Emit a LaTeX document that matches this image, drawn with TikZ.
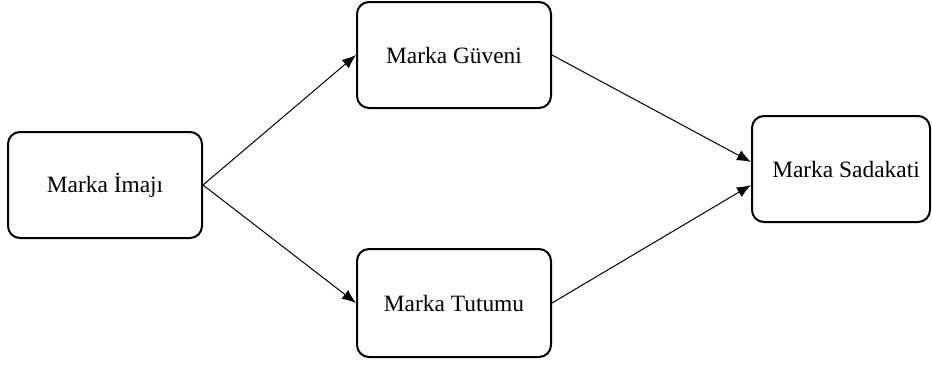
\documentclass[tikz,border=0pt]{standalone}
\usepackage{fontspec}
\setmainfont{Liberation Serif}
\usetikzlibrary{arrows.meta,positioning}
\tikzset{
  kutu/.style={draw, line width=1pt, rounded corners=6pt, minimum width=97pt,
    minimum height=53pt, align=center, font=\fontsize{11.7}{14}\selectfont},
  ok/.style={-{Latex[length=7pt,width=5.5pt]}, line width=0.5pt}
}

\begin{document}
\begin{tikzpicture}[x=0.5pt,y=-0.5pt]
      \useasboundingbox (0,0) rectangle (932,365);
      \node[kutu] (imaj) at (105,185) {Marka İmajı};
      \node[kutu] (guven) at (454,55) {Marka Güveni};
      \node[kutu, minimum height=54pt] (tutum) at (454,303) {Marka Tutumu};
      \node[kutu, minimum width=89pt] (sadakat) at (841,169) {\hspace*{5pt}Marka Sadakati};
      \draw[ok] (imaj.east) -- (guven.west);
      \draw[ok] (imaj.east) -- (tutum.west);
      \draw[ok] (guven.east) -- ([yshift=3.5pt]sadakat.west);
      \draw[ok] (tutum.east) -- ([yshift=-8pt]sadakat.west);
    \end{tikzpicture}
\end{document}
